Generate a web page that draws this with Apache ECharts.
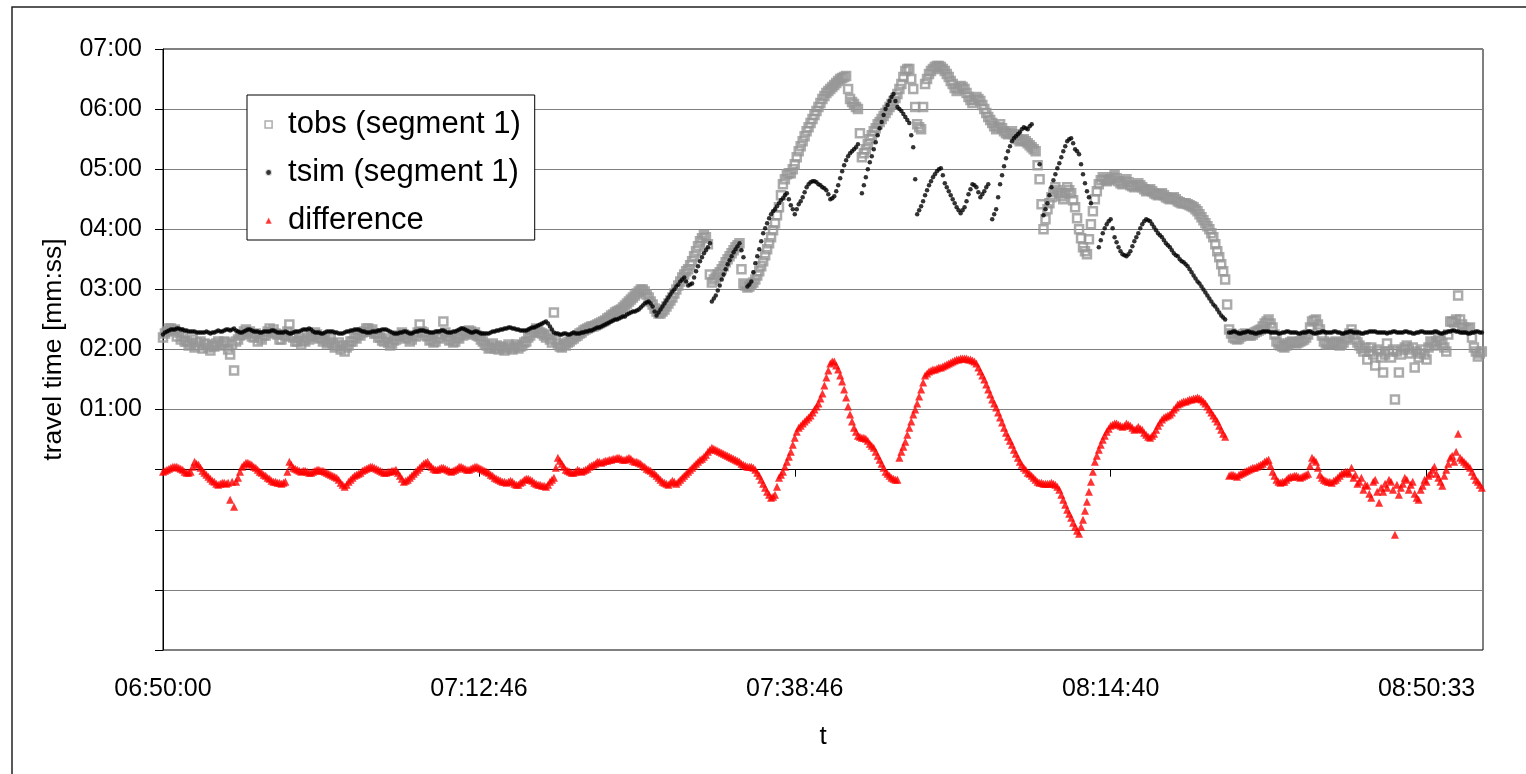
<!DOCTYPE html>
<html>
<head>
<meta charset="utf-8">
<script src="https://cdn.jsdelivr.net/npm/echarts@6/dist/echarts.min.js"></script>
<style>
  html, body { margin: 0; padding: 0; background: #fff; }
  #chart { width: 1526px; height: 774px; }
</style>
</head>
<body>
<div id="chart"></div>
<script>
// Time-axis labels, one every 160 samples along the x axis
const tickLabels = ['06:50:00', '07:12:46', '07:38:46', '08:14:40', '08:50:33'];
const samplesPerLabel = 160;

// Observed travel time, seconds (segment 1)
const tobs = [
  132,136,138,141,141,139,140,133,137,130,133,128,128,124,126,130,122,127,124,128,
  121,126,125,122,119,124,123,126,128,124,125,128,127,120,115,125,99,128,130,134,
  135,138,140,136,138,133,132,136,128,132,130,134,134,138,141,137,140,136,135,130,
  130,135,133,138,145,134,132,128,128,131,125,129,128,132,130,134,133,137,135,131,
  132,128,130,126,128,131,126,122,124,127,120,124,118,122,124,128,128,132,131,135,
  134,137,138,141,141,138,140,136,136,132,132,129,128,131,127,124,126,129,130,134,
  133,137,135,131,132,128,130,134,133,137,145,138,137,134,133,129,130,127,128,132,
  131,135,148,137,133,129,130,127,128,132,131,135,134,138,136,139,138,135,137,134,
  133,130,128,125,124,121,122,126,121,124,120,123,122,119,121,125,123,120,122,125,
  121,123,124,127,128,132,134,137,138,141,140,137,136,134,132,135,130,127,157,129,
  126,123,122,125,124,127,128,130,131,133,134,136,137,139,140,141,142,143,143,144,
  145,146,147,148,149,151,152,154,155,157,158,159,160,162,164,166,168,170,172,174,
  176,178,180,180,178,175,172,168,165,161,158,156,156,158,160,163,166,169,172,176,
  180,184,188,192,195,198,200,204,208,213,218,223,228,231,234,232,225,195,187,190,
  192,195,197,200,203,207,210,213,216,219,222,224,226,200,186,184,182,183,185,187,
  190,194,198,203,208,214,220,226,232,239,246,254,262,274,285,290,295,296,296,300,
  305,312,318,323,328,333,338,342,346,350,354,358,362,366,370,373,376,378,380,382,
  384,386,388,390,391,392,393,380,370,367,365,362,360,336,312,316,320,325,330,334,
  338,341,345,347,350,353,356,359,362,365,368,371,375,380,385,392,398,400,400,390,
  380,362,345,342,340,362,385,390,395,398,400,402,403,403,402,400,398,395,392,388,
  385,381,378,380,383,382,380,376,372,369,366,369,372,370,368,364,360,356,352,349,
  346,343,340,342,345,341,338,336,335,336,338,335,333,330,328,329,330,328,326,324,
  322,320,318,304,290,265,240,250,260,266,272,277,282,279,276,273,270,276,282,279,
  276,269,262,251,240,231,222,218,215,230,245,258,270,278,285,289,292,290,288,289,
  290,292,294,291,288,286,285,288,290,287,284,283,282,284,286,284,282,280,278,279,
  280,278,276,275,274,275,276,274,272,271,270,271,272,270,268,267,266,266,266,265,
  264,263,262,260,258,255,252,249,246,243,240,236,232,225,218,212,205,198,190,165,
  140,136,132,131,130,131,133,135,136,135,134,134,135,137,138,139,140,143,146,148,
  150,146,142,135,128,126,124,123,122,124,126,127,128,127,126,127,128,129,130,132,
  135,142,148,149,150,145,140,134,128,126,125,125,126,127,128,126,124,125,127,130,
  132,136,140,135,130,127,124,121,118,122,110,118,122,115,104,120,118,112,97,115,
  126,118,112,120,70,118,97,115,120,122,124,120,116,122,102,118,112,116,120,115,
  110,122,128,126,124,128,132,129,126,122,118,135,148,148,147,150,174,150,145,142,
  140,141,142,132,122,118,113,116,118
];

// Simulated travel time, seconds (segment 1); null where no value
const tsim = [
  135,137,138,139,140,140,140,141,141,140,140,139,139,138,138,138,138,137,137,137,
  137,137,138,137,136,137,137,138,139,138,138,139,140,140,139,140,141,139,138,137,
  137,138,139,140,140,139,138,138,138,137,137,138,138,138,138,139,139,138,137,137,
  137,137,138,137,136,136,137,138,138,138,139,140,140,140,141,140,138,137,137,137,
  136,136,137,138,138,138,138,137,137,136,136,136,137,138,138,139,139,140,140,140,
  139,138,138,137,137,137,138,138,138,139,139,140,140,140,139,138,137,136,136,136,
  137,137,138,138,137,136,136,137,138,138,139,139,139,138,138,137,137,137,138,138,
  138,139,139,138,137,137,137,138,138,139,140,141,141,140,139,138,137,137,138,138,
  137,136,136,136,136,136,137,138,138,139,139,140,140,141,141,142,142,141,141,140,
  140,139,139,139,139,140,141,142,142,143,144,145,146,147,148,146,143,140,137,136,
  136,135,135,136,136,135,135,136,137,136,136,136,137,137,138,138,139,139,140,141,
  142,142,143,144,145,146,147,148,149,150,150,151,152,153,153,155,156,157,158,158,
  159,160,162,164,166,167,168,166,163,158,154,157,160,163,166,169,172,175,178,180,
  183,185,188,190,192,188,184,185,186,192,198,203,208,212,216,219,222,226,168,171,
  174,179,184,190,195,200,205,209,213,217,220,223,226,219,212,null,183,185,188,197,
  206,213,220,228,236,241,246,251,255,258,260,263,266,269,271,274,276,270,264,260,
  255,260,265,268,272,277,282,285,287,288,288,287,285,284,282,281,279,275,270,271,
  273,278,284,291,298,304,309,313,316,318,320,322,325,null,276,284,292,300,307,313,
  320,327,334,341,347,354,360,364,368,372,375,368,362,360,358,355,352,349,346,334,
  322,290,255,259,263,268,274,279,284,288,292,295,298,300,301,294,286,282,278,274,
  270,266,262,259,256,259,262,268,275,280,285,284,282,277,272,275,278,282,285,null,
  250,255,260,272,285,294,303,311,318,323,328,331,333,335,337,340,342,341,340,343,
  345,null,null,null,305,null,254,260,266,274,282,289,295,301,306,312,318,323,328,330,
  331,326,320,318,315,305,295,286,278,272,266,null,null,null,222,229,236,241,245,248,
  250,241,232,227,222,218,215,214,213,215,218,223,228,232,236,241,245,248,250,249,
  248,245,242,239,236,234,232,229,226,224,222,219,216,214,213,210,208,207,205,203,
  200,197,194,191,188,186,183,180,177,174,171,168,165,163,160,157,154,152,150,null,
  137,137,138,138,137,136,136,137,137,138,138,137,137,136,136,137,137,138,138,138,
  138,137,137,137,137,136,136,137,137,138,138,137,137,137,137,136,136,137,137,137,
  138,138,137,136,136,137,137,138,138,137,137,137,137,138,138,137,137,136,136,137,
  137,138,138,137,137,137,137,136,136,137,137,138,138,138,138,137,137,137,137,137,
  136,137,137,138,138,137,137,137,137,138,138,137,137,136,136,137,137,138,138,137,
  137,137,137,137,138,138,137,136,136,137,137,138,138,139,139,138,138,137,137,137,
  137,136,136,137,137,138,138,137,137
];

// Difference between observed and simulated travel time, seconds
const difference = [
  -2,-1,0,1,2,3,3,3,2,1,0,-2,-3,-3,-2,3,8,6,5,2,
  -1,-3,-5,-7,-9,-11,-12,-14,-15,-14,-13,-13,-14,-13,-30,-12,-37,-12,-8,-2,
  3,5,7,7,6,5,3,2,0,-2,-3,-5,-6,-8,-9,-11,-12,-12,-13,-13,
  -14,-13,-12,-2,8,5,2,1,0,-1,-2,-1,-1,-2,-3,-3,-2,-1,0,0,
  -1,-1,-2,-3,-4,-5,-6,-7,-8,-10,-13,-15,-17,-15,-12,-10,-8,-6,-5,-4,
  -3,-1,0,1,2,3,3,2,1,0,-1,-2,-3,-3,-2,-2,-1,-1,0,-3,
  -6,-9,-12,-11,-10,-8,-6,-4,-2,0,2,4,6,7,8,5,3,1,0,0,
  1,2,2,1,0,-1,-2,-1,0,1,3,3,2,1,0,0,1,2,3,3,
  2,1,0,-1,-2,-3,-5,-6,-8,-9,-10,-11,-12,-12,-13,-12,-11,-12,-14,-15,
  -15,-13,-12,-10,-9,-9,-10,-11,-13,-14,-15,-15,-16,-16,-17,-15,-12,-10,-8,2,
  12,9,6,3,0,-1,-2,-3,-3,-2,0,-1,-2,-1,0,1,3,4,5,6,
  8,8,7,8,9,9,10,10,11,11,12,12,11,10,10,11,12,11,9,8,
  8,7,6,4,3,1,0,-1,-3,-4,-6,-8,-10,-12,-13,-14,-15,-13,-11,-12,
  -14,-12,-10,-8,-6,-4,-2,0,2,4,6,8,10,11,13,15,18,20,22,21,
  20,19,18,17,16,15,14,13,12,11,10,9,8,6,5,4,3,3,3,2,
  0,-3,-6,-10,-14,-18,-22,-25,-28,-27,-25,-17,-8,-5,-2,3,8,13,18,25,
  32,38,42,44,46,48,50,52,54,57,60,63,66,71,76,84,92,99,106,108,
  108,104,100,94,88,80,72,63,55,48,42,38,34,33,32,32,31,29,26,24,
  22,18,14,10,6,2,-2,-4,-6,-8,-9,-10,-10,12,18,23,28,35,42,48,
  55,60,66,73,80,87,94,96,98,99,100,100,101,102,102,103,104,105,106,107,
  108,109,110,110,111,111,111,111,110,110,109,108,106,102,98,94,90,85,80,75,
  70,66,62,57,52,47,42,37,33,29,25,20,16,12,8,5,2,0,-3,-4,
  -6,-8,-10,-12,-13,-13,-14,-14,-14,-14,-13,-14,-15,-17,-20,-25,-30,-35,-40,-44,
  -48,-53,-57,-61,-64,-57,-50,-41,-32,-22,-12,-2,8,14,20,25,30,34,38,41,
  44,45,46,46,45,44,43,44,46,45,44,42,40,41,43,41,40,37,35,33,
  32,34,36,40,44,47,50,52,53,54,55,57,60,62,65,66,67,68,68,69,
  70,70,71,71,72,71,70,68,66,63,60,57,54,51,48,44,40,36,33,null,
  -6,-5,-5,-6,-7,-5,-4,-3,-2,-1,0,1,2,2,3,4,5,6,8,9,
  10,4,-2,-6,-10,-12,-13,-12,-12,-10,-8,-7,-7,-6,-6,-7,-8,-7,-6,-5,
  -4,4,12,10,8,2,-5,-8,-10,-11,-12,-12,-13,-11,-10,-8,-6,-4,-3,-2,
  -2,-4,2,-8,-5,-14,-12,-8,-20,-15,-16,-24,-28,-12,-10,-22,-33,-18,-22,-14,
  -18,-10,-12,-20,-65,-15,-25,-18,-14,-8,-10,-20,-15,-12,-24,-28,-30,-20,-16,-10,
  -12,-6,-4,0,3,-4,-8,-12,-16,-6,0,6,12,14,8,18,36,12,10,8,
  6,4,2,-2,-6,-10,-12,-15,-18
];

const FONT = '"Liberation Sans", Arial, sans-serif';

function toPoints(values) {
  return values.map((v, i) => [i, v]);
}

function pad2(n) {
  return (n < 10 ? '0' : '') + n;
}

// mm:ss for positive values; zero and negative ticks stay unlabeled
function mmss(v) {
  if (v <= 0) return '';
  const m = Math.floor(v / 60);
  const s = Math.round(v - m * 60);
  return pad2(m) + ':' + pad2(s);
}

const labelTicks = tickLabels.map((_, i) => i * samplesPerLabel);

const chart = echarts.init(document.getElementById('chart'), null, { renderer: 'canvas' });

chart.setOption({
  animation: false,
  backgroundColor: '#ffffff',
  textStyle: { fontFamily: FONT },
  graphic: [{
    type: 'rect',
    silent: true,
    z: -10,
    shape: { x: 12, y: 7, width: 1600, height: 900 },
    style: { fill: 'none', stroke: '#222', lineWidth: 1.5 }
  }],
  grid: {
    left: 163, right: 43, top: 49, bottom: 124,
    show: true, borderColor: '#000', borderWidth: 1, backgroundColor: 'transparent'
  },
  legend: {
    orient: 'vertical',
    left: 247, top: 95,
    padding: [14, 14, 4, 17],
    itemGap: 17,
    itemWidth: 7, itemHeight: 7,
    backgroundColor: '#fff',
    borderColor: '#000', borderWidth: 1,
    textStyle: { fontFamily: FONT, fontSize: 31, color: '#000', lineHeight: 30, padding: [0, 0, 0, 11] },
    data: [
      { name: 'tobs (segment 1)', itemStyle: { color: '#fff', borderColor: '#969696', borderWidth: 1.5 } },
      { name: 'tsim (segment 1)', itemStyle: { color: '#000', borderColor: '#fff', borderWidth: 2.2 } },
      { name: 'difference', itemStyle: { color: '#ff0000', borderColor: '#fff', borderWidth: 0.8 } }
    ]
  },
  xAxis: {
    type: 'value',
    min: 0,
    max: 668.6,
    interval: samplesPerLabel,
    name: 't',
    nameLocation: 'middle',
    nameGap: 74,
    nameTextStyle: { fontFamily: FONT, fontSize: 26, color: '#000' },
    axisLine: { show: true, lineStyle: { color: '#000', width: 1 } },
    axisTick: { show: true, length: 7, lineStyle: { color: '#000' }, customValues: labelTicks },
    axisLabel: {
      customValues: labelTicks,
      margin: 27,
      fontFamily: FONT, fontSize: 25, color: '#000',
      formatter: v => tickLabels[Math.round(v / samplesPerLabel)] || ''
    },
    splitLine: { show: false }
  },
  yAxis: {
    type: 'value',
    min: -180,
    max: 420,
    interval: 60,
    name: 'travel time [mm:ss]',
    nameLocation: 'middle',
    nameRotate: 90,
    nameGap: 96,
    nameTextStyle: { fontFamily: FONT, fontSize: 26.5, color: '#000' },
    axisLine: { show: true, lineStyle: { color: '#000', width: 1 } },
    axisTick: { show: true, length: 8, lineStyle: { color: '#000' } },
    axisLabel: {
      margin: 21,
      fontFamily: FONT, fontSize: 25, color: '#000',
      formatter: mmss
    },
    splitLine: { show: true, lineStyle: { color: '#808080', width: 1 } }
  },
  series: [
    {
      name: 'tobs (segment 1)',
      type: 'scatter',
      symbol: 'rect',
      symbolSize: 8,
      itemStyle: { color: 'rgba(255,255,255,0)', borderColor: '#969696', borderWidth: 2.5 },
      data: toPoints(tobs),
      z: 2
    },
    {
      name: 'tsim (segment 1)',
      type: 'scatter',
      symbol: 'circle',
      symbolSize: 4.5,
      itemStyle: { color: '#000' },
      data: toPoints(tsim),
      z: 3
    },
    {
      name: 'difference',
      type: 'scatter',
      symbol: 'triangle',
      symbolSize: 8,
      itemStyle: { color: '#ff0000' },
      data: toPoints(difference),
      z: 4
    }
  ]
});
</script>
</body>
</html>
